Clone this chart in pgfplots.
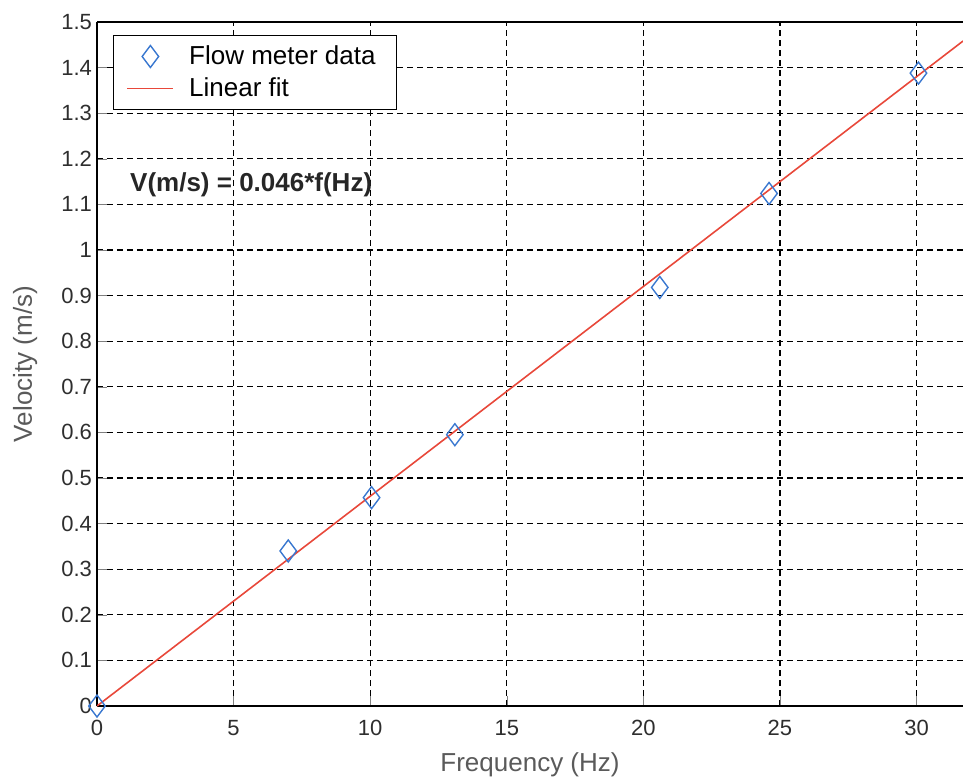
\documentclass[border=0pt]{standalone}
\usepackage{pgfplots}
\pgfplotsset{compat=1.18}
\usepackage{fontspec}
\setmainfont{Liberation Sans}
\definecolor{fitred}{HTML}{E8483A}
\definecolor{dblue}{HTML}{3A78D0}
\definecolor{lblgray}{HTML}{5A5A5A}
\definecolor{tickgray}{HTML}{2E2E2E}
\pgfplotsset{
  mklegend/.style={legend image code/.code={\draw[##1] plot coordinates {(11.5pt,0pt)};\path (0pt,0pt) (26.5pt,0pt);}},
  lnlegend/.style={legend image code/.code={\draw[##1] (0pt,0pt) -- (23pt,0pt);\path (26.5pt,0pt);}},
}
\begin{document}
\begin{tikzpicture}
\begin{axis}[
  name=ax,
  scale only axis,
  width=433pt, height=342pt,
  xmin=0, xmax=31.7, ymin=0, ymax=1.5,
  xtick={0,5,...,30},
  ytick={0,0.1,...,1.5},
  yticklabels={0,0.1,0.2,0.3,0.4,0.5,0.6,0.7,0.8,0.9,1,1.1,1.2,1.3,1.4,1.5},
  /pgf/number format/assume math mode=true,
  tick label style={font=\fontsize{11}{12}\selectfont, text=tickgray},
  xticklabel style={yshift=-3.5pt},
  yticklabel style={xshift=1pt},
  tick align=inside,
  major tick length=5pt,
  axis lines*=left,
  axis line style={black, line width=0.8pt},
  xtick pos=both, ytick pos=left,
  grid=major,
  major grid style={black, line width=0.6pt, dash pattern=on 3pt off 2pt},
  xlabel={Frequency (Hz)},
  ylabel={Velocity (m/s)},
  label style={font=\fontsize{13}{15}\selectfont, text=lblgray},
  xlabel style={at={(axis description cs:0.5,0)}, anchor=north, yshift=-20pt},
  ylabel style={at={(axis description cs:-0.083,0.5)}, anchor=center},
  legend style={at={(rel axis cs:0,1)}, anchor=north west, xshift=8pt, yshift=-6.5pt,
    draw=black, line width=0.6pt, fill=white, font=\fontsize{13}{15}\selectfont,
    inner xsep=6.5pt, inner ysep=3pt, row sep=1pt,
    nodes={inner xsep=4pt}},
  legend cell align=left,
  clip=true,
]
\addplot[only marks, mark=diamond, mark size=5.5pt, mark options={draw=dblue, line width=0.7pt, fill=none}, mklegend]
  coordinates {(0,0) (7.0,0.34) (10.05,0.457) (13.1,0.595) (20.6,0.918) (24.6,1.124) (30.07,1.388)};
\addlegendentry{Flow meter data}
\addplot[fitred, line width=0.8pt, lnlegend]
  coordinates {(0,0) (31.7,1.4582)};
\addlegendentry{Linear fit}
\node[anchor=west, font=\bfseries\fontsize{13}{15}\selectfont, text=black!85, inner sep=0pt] at (axis cs:1.2,1.142) {V(m/s) = 0.046*f(Hz)};
\end{axis}
\draw[black, line width=0.8pt] (ax.north west) -- (ax.north east);
\pgfresetboundingbox
\path ([shift={(-48.5pt,-35.5pt)}]ax.south west) rectangle ([shift={(0pt,11pt)}]ax.north east);
\end{tikzpicture}
\end{document}
